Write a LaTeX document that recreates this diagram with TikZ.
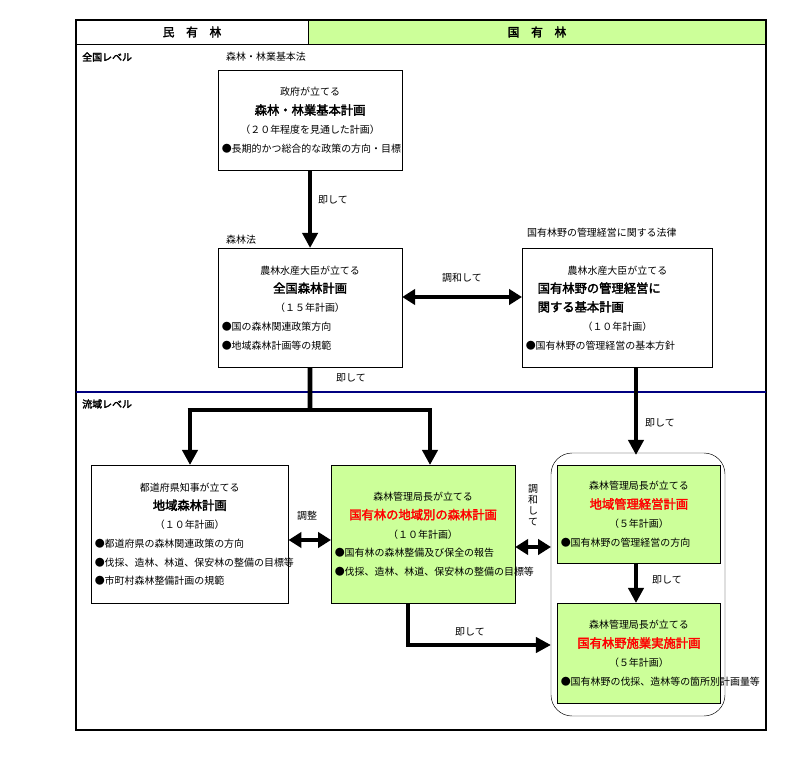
\documentclass[tikz,border=0pt]{standalone}
\usepackage{fontspec}
\setmainfont{Noto Sans CJK JP}[AutoFakeBold=2.5]
\usetikzlibrary{arrows.meta}
\definecolor{plangreen}{RGB}{204,255,153}
\tikzset{
  plan/.style={draw, anchor=north west, inner xsep=3pt, inner ysep=2pt,
    font=\fontsize{8.5}{16}\selectfont},
  green plan/.style={plan, fill=plangreen},
  note/.style={font=\fontsize{8.5}{10}\selectfont, inner sep=0pt},
  fat/.style={line width=4pt, -{Triangle[width=13pt,length=13pt]}},
  fat both/.style={line width=4pt, {Triangle[width=13pt,length=11pt]}-{Triangle[width=13pt,length=11pt]}}
}
\newcommand{\ttl}[1]{{\fontsize{10.5}{16}\selectfont\textbf{#1}}}
\newcommand{\redttl}[1]{{\fontsize{10.5}{16}\selectfont\color{red}\textbf{#1}}}
\newcommand{\itm}[1]{\par\raggedright\hangindent=1em ●#1}
\begin{document}
\begin{tikzpicture}[x=0.03cm,y=-0.03cm]
    \useasboundingbox (0,0) rectangle (800,782);
    % frame and header
    \fill[plangreen] (308,20) rectangle (766,44);
    \draw[line width=1pt] (76,20) rectangle (766,730);
    \draw (76,44) -- (766,44);
    \draw (308,20) -- (308,44);
    \node[note, font=\bfseries\fontsize{10}{12}\selectfont] (minyu) at (192,32) {民\quad 有\quad 林};
    \node[note, font=\bfseries\fontsize{10}{12}\selectfont] (kokuyu) at (537,32) {国\quad 有\quad 林};
    \draw[line width=2pt, blue!50!black] (76,392) -- (766,392);
    \node[note, anchor=west, font=\bfseries\fontsize{8.5}{10}\selectfont] (zenkoku) at (82,57) {全国レベル};
    \node[note, anchor=west, font=\bfseries\fontsize{8.5}{10}\selectfont] (ryuiki) at (82,404) {流域レベル};

    % laws
    \node[note, anchor=west] (law1) at (226,57) {森林・林業基本法};
    \node[note, anchor=west] (law2) at (226,240) {森林法};
    \node[note, anchor=west] (law3) at (527,233) {国有林野の管理経営に関する法律};

    % national level
    \node[plan, text width=5.3cm, minimum height=3.0cm] (kihon) at (218,70)
      {\centering 政府が立てる\\ \ttl{森林・林業基本計画}\\ （２０年程度を見通した計画）
       \itm{長期的かつ総合的な政策の方向・目標}\par};
    \node[plan, text width=5.3cm, minimum height=3.57cm] (zenkokuplan) at (218,248)
      {\centering 農林水産大臣が立てる\\ \ttl{全国森林計画}\\ （１５年計画）
       \itm{国の森林関連政策方向}\itm{地域森林計画等の規範}\par};
    \node[plan, text width=5.5cm, minimum height=3.57cm] (kanri) at (522,248)
      {\centering 農林水産大臣が立てる\par\raggedright\hspace{1.2em}\ttl{国有林野の管理経営に}\\ \hspace*{1.2em}\ttl{関する基本計画}\par
       \centering （１０年計画）\itm{国有林野の管理経営の基本方針}\par};

    % river basin level
    \node[plan, text width=5.7cm, minimum height=4.14cm] (chiiki) at (91,465)
      {\centering 都道府県知事が立てる\\ \ttl{地域森林計画}\\ （１０年計画）
       \itm{都道府県の森林関連政策の方向}\itm{伐採、造林、林道、保安林の整備の目標等}\itm{市町村森林整備計画の規範}\par};
    \node[green plan, text width=5.3cm, minimum height=4.14cm] (betsu) at (331,465)
      {\centering 森林管理局長が立てる\\ \redttl{国有林の地域別の森林計画}\\ （１０年計画）
       \itm{国有林の森林整備及び保全の報告}\itm{伐採、造林、林道、保安林の整備の目標等}\par};
    \draw[rounded corners=18pt] (551,453) rectangle (725,716);
    \node[green plan, text width=4.69cm, minimum height=2.94cm] (keiei) at (557,465)
      {\centering 森林管理局長が立てる\\ \redttl{地域管理経営計画}\\ （５年計画）
       \itm{国有林野の管理経営の方向}\par};
    \node[green plan, text width=4.69cm, minimum height=3.0cm] (jisshi) at (557,603)
      {\centering 森林管理局長が立てる\\ \redttl{国有林野施業実施計画}\\ （５年計画）
       \itm{国有林野の伐採、造林等の箇所別計画量等}\par};

    % connectors
    \coordinate (split) at (310,410);
    \draw[fat] (kihon.south) -- (zenkokuplan.north);
    \node[note] (sokushi1) at (333,200) {即して};
    \draw[fat both] (zenkokuplan.east |- 0,297) -- (kanri.west |- 0,297);
    \node[note] (chowa1) at (462,278) {調和して};
    \draw[line width=4pt] (zenkokuplan.south) -- (split);
    \node[note] (sokushi2) at (351,378) {即して};
    \draw[fat] (190,410) -| (chiiki.north -| 190,0);
    \draw[fat] (split) -| (betsu.north -| 430,0);
    \draw[line width=4pt] (187.5,410) -- (432,410);
    \draw[fat] (kanri.south -| 636,0) -- (636,455);
    \node[note] (sokushi3) at (660,423) {即して};
    \draw[fat] (keiei.south -| 636,0) -- (jisshi.north -| 636,0);
    \node[note] (sokushi4) at (667,580) {即して};
    \draw[fat both] (chiiki.east |- 0,540) -- (betsu.west |- 0,540);
    \node[note] (chosei) at (307,516) {調整};
    \draw[fat both] (betsu.east |- 0,547) -- (551,547);
    \node[note, align=center, font=\fontsize{8.5}{9.5}\selectfont] (chowa2) at (533,505) {調\\和\\し\\て};
    \draw[fat] (betsu.south -| 408,0) |- (551,645);
    \node[note] (sokushi5) at (470,632) {即して};
\end{tikzpicture}
\end{document}
